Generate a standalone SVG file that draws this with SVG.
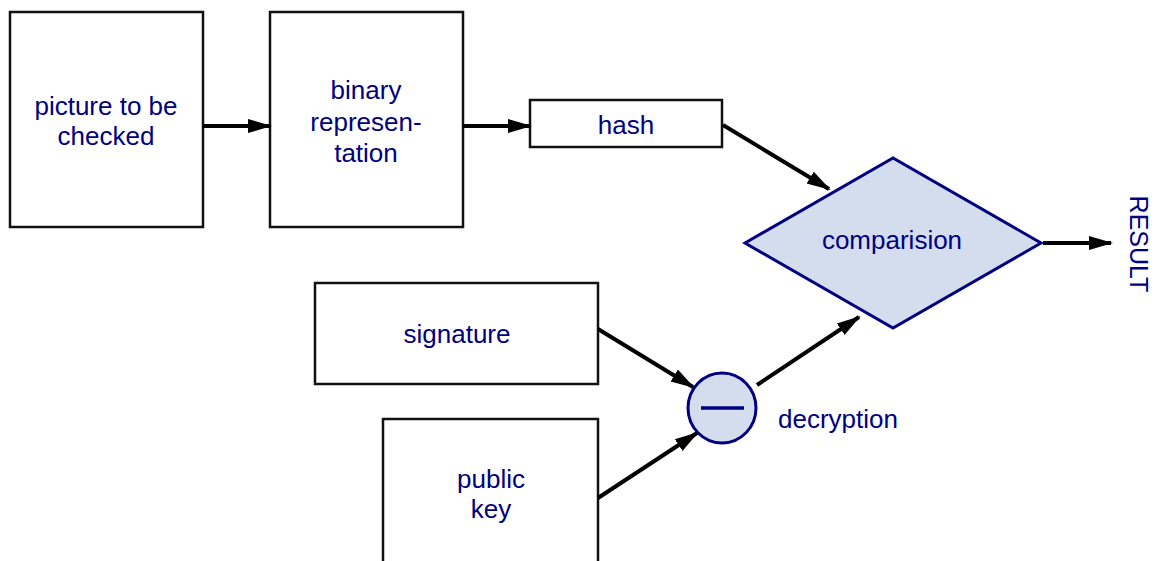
<svg xmlns="http://www.w3.org/2000/svg" width="1157" height="561" viewBox="0 0 1157 561">
<style>
.box{fill:#fff;stroke:#111;stroke-width:2.5}
.nav{fill:#d3ddee;stroke:#000080;stroke-width:3}
.t{font-family:"Liberation Sans",Arial,sans-serif;font-size:26px;fill:#000080;text-anchor:middle}
.c{stroke:#000;stroke-width:4;fill:none;marker-end:url(#ah)}
</style>
<defs>
<marker id="ah" markerUnits="userSpaceOnUse" markerWidth="24" markerHeight="16" refX="22" refY="7" orient="auto" viewBox="0 0 24 14">
<path d="M0,0 L24,7 L0,14 Z" fill="#000"/>
</marker>
</defs>
<rect width="1157" height="561" fill="#fff"/>
<g id="picture">
<rect class="box" x="10" y="12" width="193" height="215"/>
<text class="t" x="106" y="115">picture to be</text>
<text class="t" x="106" y="145">checked</text>
</g>
<g id="binary">
<rect class="box" x="270" y="12" width="193" height="215"/>
<text class="t" x="366" y="99">binary</text>
<text class="t" x="366" y="131">represen-</text>
<text class="t" x="366" y="162">tation</text>
</g>
<g id="hash">
<rect class="box" x="530" y="100" width="192" height="47"/>
<text class="t" x="626" y="134">hash</text>
</g>
<g id="comparision">
<polygon class="nav" points="745,243 893,158 1041,243 893,328"/>
<text class="t" x="892" y="249">comparision</text>
</g>
<g id="result">
<text class="t" transform="translate(1130,244) rotate(90)" x="0" y="0" style="font-size:25px">RESULT</text>
</g>
<g id="signature">
<rect class="box" x="315" y="283" width="283" height="101"/>
<text class="t" x="457" y="343">signature</text>
</g>
<g id="publickey">
<rect class="box" x="383" y="419" width="215" height="150"/>
<text class="t" x="491" y="488">public</text>
<text class="t" x="491" y="518">key</text>
</g>
<g id="decryption">
<ellipse class="nav" cx="722" cy="408" rx="34" ry="35"/>
<line x1="701" y1="408" x2="744" y2="408" stroke="#000080" stroke-width="3.5"/>
<text class="t" x="778" y="428" style="text-anchor:start">decryption</text>
</g>
<g id="connectors">
<line class="c" x1="203" y1="126" x2="270" y2="126"/>
<line class="c" x1="463" y1="126" x2="530" y2="126"/>
<line class="c" x1="723" y1="125" x2="829" y2="189"/>
<line class="c" x1="1043" y1="243" x2="1111" y2="243"/>
<line class="c" x1="598" y1="329" x2="693" y2="387"/>
<line class="c" x1="598" y1="498" x2="697" y2="433"/>
<line class="c" x1="757" y1="385" x2="859" y2="317"/>
</g>
</svg>
